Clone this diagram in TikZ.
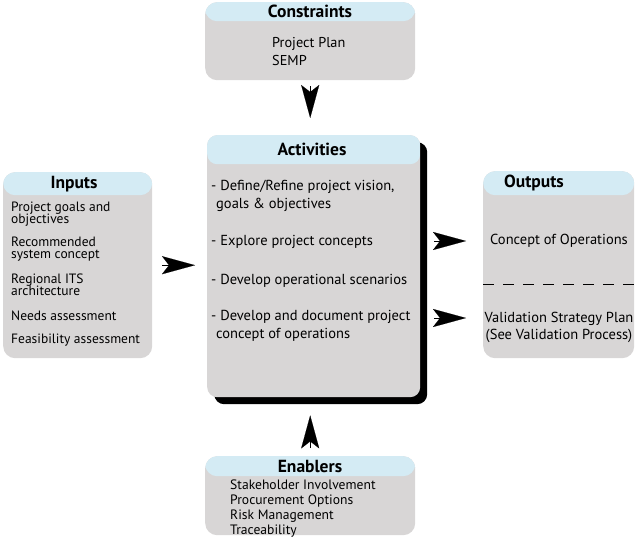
\documentclass[tikz,border=0pt]{standalone}
\usepackage{fontspec}
\setmainfont{PT Sans}
\usetikzlibrary{positioning,arrows.meta,shadows}
\definecolor{boxgray}{HTML}{D8D6D6}
\definecolor{headblue}{HTML}{D4EBF4}

\tikzset{
  panel/.style={fill=boxgray,rounded corners=12pt,inner sep=0pt,anchor=north west,
    path picture={\fill[headblue] (path picture bounding box.north west) rectangle ([yshift=-#1]path picture bounding box.north east);}},
  heading/.style={font=\bfseries\fontsize{17.5}{18}\selectfont},
  entry/.style={font=\fontsize{14.5}{18.5}\selectfont,align=left,anchor=west,inner sep=0pt},
  flow/.style={-{Stealth[length=33pt,width=18pt,inset=7pt]},line width=0.1pt},
}

\begin{document}
\begin{tikzpicture}[x=1pt,y=-1pt]
\useasboundingbox (0,0) rectangle (636,540);
% the five panels
\node[panel=19pt,minimum width=210pt,minimum height=78pt] (cons) at (205,2) {};
\node[panel=29pt,rounded corners=10pt,minimum width=213pt,minimum height=262pt,
  drop shadow={shadow xshift=7pt,shadow yshift=-7pt,fill=black,opacity=1}] (act) at (207,135) {};
\node[panel=23pt,minimum width=149pt,minimum height=186pt] (inp) at (3,172) {};
\node[panel=24pt,minimum width=151pt,minimum height=187pt] (outp) at (483,171) {};
\node[panel=20pt,minimum width=210pt,minimum height=79pt] (enab) at (205,456) {};

% headings
\node[heading] (consT) at (310,11) {Constraints};
\node[heading] (actT) at (312,149) {Activities};
\node[heading] (inpT) at (74,184) {Inputs};
\node[heading] (outpT) at (534,183) {Outputs};
\node[heading] (enabT) at (310,466) {Enablers};

% constraints
\node[entry,font=\fontsize{14.3}{18}\selectfont] (plan) at (272,52) {Project Plan\\SEMP};

% activities
\node[entry] (vision) at (211,196) {- Define/Refine project vision,\\\hspace*{5pt}goals \& objectives};
\node[entry] (explore) at (211,242) {- Explore project concepts};
\node[entry] (scen) at (211,281) {- Develop operational scenarios};
\node[entry] (conops) at (211,326) {- Develop and document project\\\hspace*{5pt}concept of operations};

% inputs
\begin{scope}[every node/.style={entry,font=\fontsize{13.5}{12.5}\selectfont}]
\node (goals) at (11,214) {Project goals and\\objectives};
\node (syscon) at (11,249) {Recommended\\system concept};
\node (its) at (11,285) {Regional ITS\\architecture};
\node (needs) at (11,316) {Needs assessment};
\node (feas) at (11,340) {Feasibility assessment};
\end{scope}

% outputs
\node[entry,anchor=center,align=center] (coc) at (559,241) {Concept of Operations};
\node[entry,anchor=center,align=center,font=\fontsize{14.5}{17}\selectfont] (vsp) at (559,327) {Validation Strategy Plan\\(See Validation Process)};
\coordinate (vspline) at ([yshift=9pt]vsp.center);
\draw[dash pattern=on 11pt off 9pt,line width=0.8pt] (outp.west |- 0,284) -- (outp.east |- 0,284);

% enablers
\node[entry,font=\fontsize{13.6}{15}\selectfont] (enlist) at (230,508.5) {Stakeholder Involvement\\Procurement Options\\Risk Management\\Traceability};

% arrows
\draw[flow,shorten <=6pt,shorten >=17pt] (cons.south) -- (cons.south |- act.north);
\draw[flow,shorten <=8pt,shorten >=18pt] (enab.north) -- (enab.north |- act.south);
\draw[flow,shorten <=10pt,shorten >=12pt] (inp.east) -- (inp.east -| act.west);
\draw[flow,shorten <=14pt,shorten >=17pt] (act.east |- coc) -- (outp.west |- coc);
\draw[flow,shorten <=14pt,shorten >=17pt] (act.east |- vspline) -- (outp.west |- vspline);
\end{tikzpicture}
\end{document}
